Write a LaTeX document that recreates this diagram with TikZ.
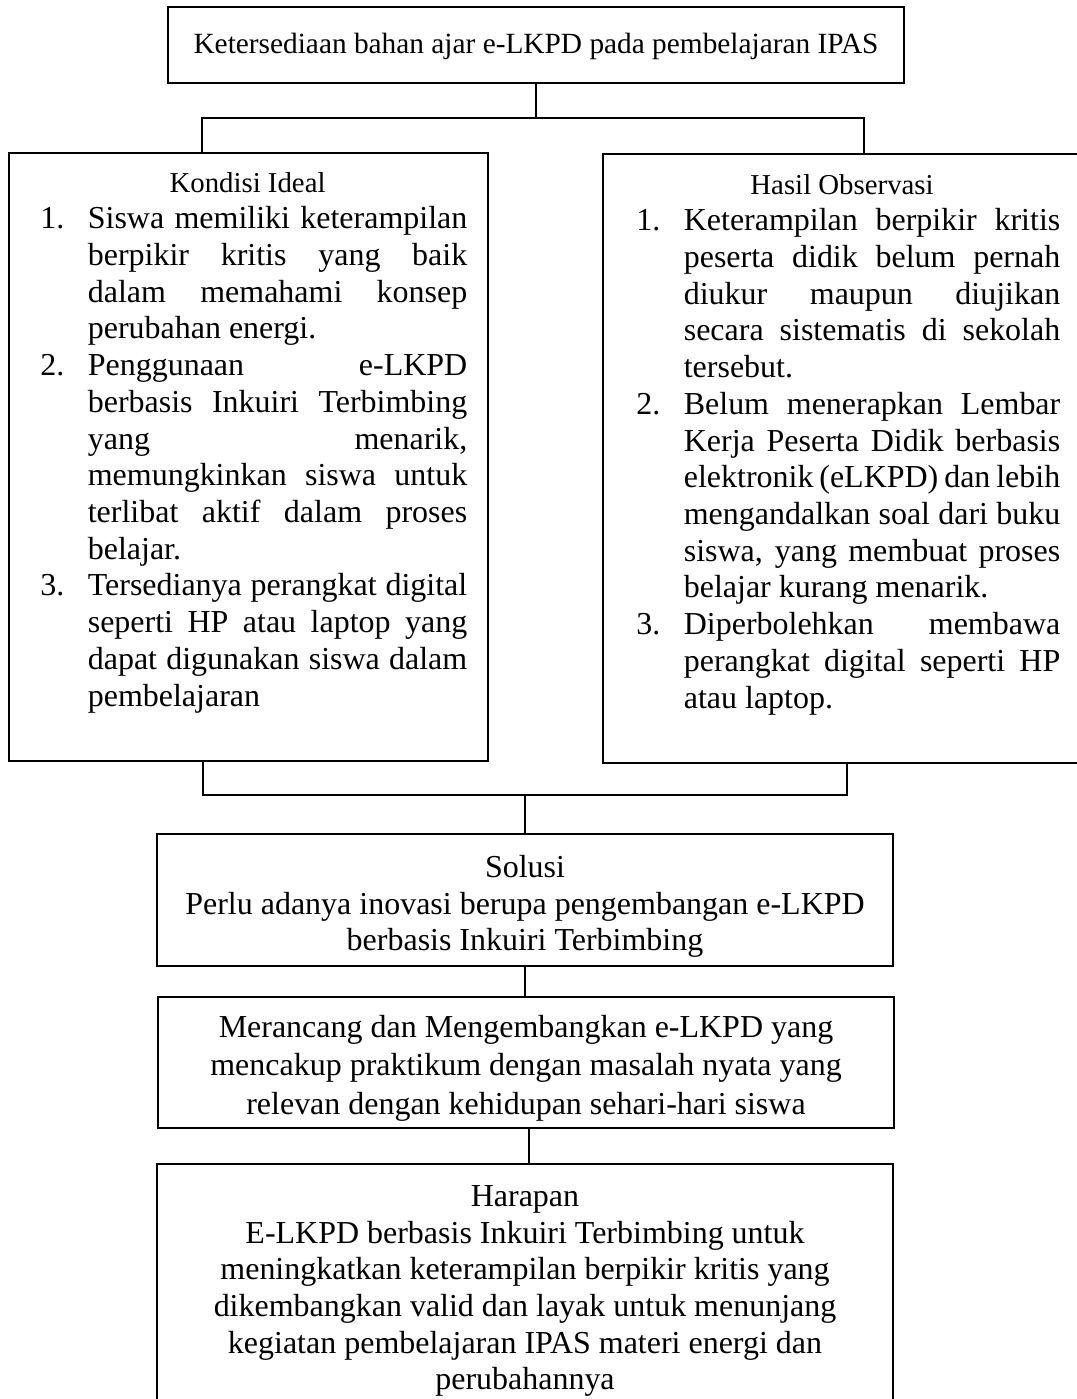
\documentclass[tikz,border=0pt]{standalone}
\usepackage{fontspec}
\setmainfont{Liberation Serif}
\usepackage{tikz}

% justified list lines are broken by hand
\tolerance=10000
\hbadness=10000
\exhyphenpenalty=10000
\hyphenpenalty=10000

% one numbered point of a list box, with hanging indent
\newcommand{\pointitem}[2]{\par\noindent\hangindent=0.95cm\hangafter=1\makebox[0.95cm][l]{#1}#2\par}
\newcommand{\boxhead}[1]{\par\noindent\makebox[\hsize]{\fontsize{16.4}{20.9}\selectfont #1\hspace{0.25cm}}\par}

\begin{document}
\begin{tikzpicture}[x=0.02cm, y=-0.02cm,
    boxline/.style={draw, line width=1.1pt, inner sep=0pt},
    midbox/.style={boxline, minimum width=14.72cm},
    listtext/.style={inner sep=0pt, text width=8.5cm, align=justify, anchor=north west,
        font=\fontsize{18.2}{20.9}\selectfont},
    midtext/.style={inner sep=0pt, align=center, anchor=north, font=\fontsize{18.2}{20.9}\selectfont},
    link/.style={line width=1.1pt},
    thinlink/.style={line width=0.8pt}
]
    \useasboundingbox (0,0) rectangle (1076,1399);

    % top
    \node[boxline, minimum width=14.72cm, minimum height=1.52cm] (task) at (536,45) {};
    \node[midtext, font=\fontsize{16.7}{19.2}\selectfont] (task-text) at (536,33)
        {Ketersediaan bahan ajar e-LKPD pada pembelajaran IPAS};

    % two side boxes
    \node[boxline, minimum width=9.58cm, minimum height=12.16cm] (ideal) at (248.5,457) {};
    \node[listtext, text width=8.54cm] (ideal-text) at (40,155) {%
        \boxhead{Kondisi Ideal}%
        \pointitem{1.}{Siswa memiliki keterampilan\linebreak berpikir kritis yang baik\linebreak dalam memahami konsep\linebreak perubahan energi.}%
        \pointitem{2.}{Penggunaan e-LKPD\linebreak berbasis Inkuiri Terbimbing\linebreak yang menarik,\linebreak memungkinkan siswa untuk\linebreak terlibat aktif dalam proses\linebreak belajar.}%
        \pointitem{3.}{Tersedianya perangkat digital\linebreak seperti HP atau laptop yang\linebreak dapat digunakan siswa dalam\linebreak pembelajaran}};

    \node[boxline, minimum width=9.52cm, minimum height=12.18cm] (obs) at (841,458.5) {};
    \node[listtext, text width=8.48cm] (obs-text) at (636,157) {%
        \boxhead{Hasil Observasi}%
        \pointitem{1.}{Keterampilan berpikir kritis\linebreak peserta didik belum pernah\linebreak diukur maupun diujikan\linebreak secara sistematis di sekolah\linebreak tersebut.}%
        \pointitem{2.}{Belum menerapkan Lembar\linebreak Kerja Peserta Didik berbasis\linebreak elektronik (eLKPD) dan lebih\linebreak mengandalkan soal dari buku\linebreak siswa, yang membuat proses\linebreak belajar kurang menarik.}%
        \pointitem{3.}{Diperbolehkan membawa\linebreak perangkat digital seperti HP\linebreak atau laptop.}};

    % lower column
    \node[midbox, minimum height=2.64cm] (solusi) at (525,900) {};
    \node[midtext] (solusi-text) at (525,855)
        {Solusi\\Perlu adanya inovasi berupa pengembangan e-LKPD\\berbasis Inkuiri Terbimbing};

    \node[midbox, minimum height=2.62cm] (rancang) at (526,1062.5) {};
    \node[midtext, font=\fontsize{18.2}{21.8}\selectfont] (rancang-text) at (526,1015)
        {Merancang dan Mengembangkan e-LKPD yang\\mencakup praktikum dengan masalah nyata yang\\relevan dengan kehidupan sehari-hari siswa};

    \node[midbox, minimum height=4.96cm] (harapan) at (525,1288) {};
    \node[midtext] (harapan-text) at (525,1185)
        {Harapan\\E-LKPD berbasis Inkuiri Terbimbing untuk\\meningkatkan keterampilan berpikir kritis yang\\dikembangkan valid dan layak untuk menunjang\\kegiatan pembelajaran IPAS materi energi dan\\perubahannya};

    % connectors
    \coordinate (split) at (536,118);
    \coordinate (merge) at (525,795);
    \draw[link] (task.south) -- (split);
    \draw[link] ([xshift=-0.93cm]ideal.north) |- (split) -| ([xshift=0.46cm]obs.north);
    \draw[link] ([xshift=-0.91cm]ideal.south) |- (merge) -| ([xshift=0.12cm]obs.south);
    \draw[thinlink] (merge) -- (solusi.north);
    \draw[thinlink] (solusi.south) -- (solusi.south |- rancang.north);
    \draw[thinlink] ([xshift=0.06cm]rancang.south) -- ([xshift=0.06cm]rancang.south |- harapan.north);
\end{tikzpicture}
\end{document}
